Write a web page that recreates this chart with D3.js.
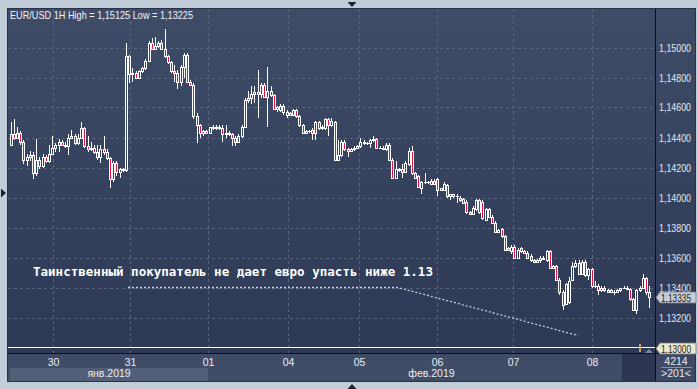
<!DOCTYPE html>
<html><head><meta charset="utf-8">
<script src="https://cdn.jsdelivr.net/npm/d3@7/dist/d3.min.js"></script>
<style>html,body{margin:0;padding:0;background:#c3cdda;overflow:hidden}svg{display:block}</style>
</head><body><svg id="c" width="698" height="389"></svg>
<script>
// ---------- DATA ----------
const titleText = "EUR/USD 1H High = 1,15125 Low = 1,13225";
const annotationText = "Таинственный покупатель не дает евро упасть ниже 1.13";
const candleOpen = [
1.1435,1.1442,1.1440,1.1443,1.1437,1.1425,1.1427,1.1428,1.1416,1.1425,
1.1421,1.1427,1.1424,1.1429,1.1433,1.1435,1.1437,1.1435,1.1434,1.1440,
1.1441,1.1436,1.1440,1.1446,1.1434,1.1432,1.1433,1.1430,1.1427,1.1432,
1.1430,1.1426,1.1412,1.1423,1.1417,1.1419,1.1418,1.1494,1.1482,1.1483,
1.1480,1.1484,1.1486,1.1491,1.1503,1.1499,1.1501,1.1503,1.1499,1.1494,
1.1490,1.1484,1.1483,1.1477,1.1487,1.1495,1.1477,1.1475,1.1454,1.1448,
1.1443,1.1444,1.1443,1.1447,1.1446,1.1447,1.1446,1.1442,1.1443,1.1442,
1.1440,1.1437,1.1441,1.1447,1.1465,1.1466,1.1469,1.1470,1.1469,1.1475,
1.1467,1.1471,1.1468,1.1459,1.1458,1.1461,1.1457,1.1455,1.1455,1.1458,
1.1454,1.1448,1.1443,1.1444,1.1445,1.1443,1.1450,1.1446,1.1446,1.1452,
1.1448,1.1450,1.1425,1.1428,1.1437,1.1432,1.1431,1.1432,1.1433,1.1434,
1.1437,1.1436,1.1436,1.1438,1.1439,1.1433,1.1433,1.1432,1.1435,1.1425,
1.1413,1.1419,1.1419,1.1417,1.1422,1.1431,1.1416,1.1414,1.1406,1.1410,
1.1410,1.1409,1.1411,1.1412,1.1405,1.1405,1.1408,1.1401,1.1401,1.1401,
1.1400,1.1399,1.1397,1.1390,1.1389,1.1392,1.1398,1.1397,1.1385,1.1392,
1.1387,1.1383,1.1377,1.1379,1.1374,1.1365,1.1364,1.1367,1.1360,1.1366,
1.1364,1.1363,1.1361,1.1358,1.1357,1.1358,1.1359,1.1358,1.1364,1.1353,
1.1354,1.1345,1.1337,1.1329,1.1330,1.1345,1.1354,1.1356,1.1349,1.1357,
1.1348,1.1352,1.1341,1.1341,1.1338,1.1340,1.1338,1.1337,1.1337,1.1337,
1.1338,1.1340,1.1340,1.1339,1.1332,1.1325,1.1338,1.1340,1.1346,1.1337];
const candleHigh = [
1.1450,1.1452,1.1447,1.1444,1.1438,1.1429,1.1431,1.1430,1.1439,1.1427,
1.1429,1.1428,1.1435,1.1441,1.1436,1.1439,1.1438,1.1437,1.1442,1.1445,
1.1442,1.1442,1.1450,1.1447,1.1441,1.1437,1.1435,1.1435,1.1435,1.1441,
1.1432,1.1427,1.1424,1.1424,1.1420,1.1420,1.1503,1.1495,1.1486,1.1484,
1.1485,1.1487,1.1492,1.1504,1.1506,1.1507,1.1504,1.1505,1.15125,1.1495,
1.1491,1.1488,1.1485,1.1488,1.1496,1.1496,1.1478,1.1476,1.1456,1.1449,
1.1445,1.1445,1.1447,1.1448,1.1448,1.1448,1.1448,1.1448,1.1444,1.1443,
1.1441,1.1442,1.1448,1.1466,1.1471,1.1474,1.1474,1.1485,1.1476,1.1476,
1.1487,1.1474,1.1469,1.1461,1.1462,1.1462,1.1458,1.1457,1.1459,1.1459,
1.1455,1.1449,1.1445,1.1445,1.1446,1.1451,1.1451,1.1448,1.1453,1.1453,
1.1453,1.1451,1.1438,1.1438,1.1438,1.1433,1.1433,1.1434,1.1435,1.1440,
1.1438,1.1437,1.1439,1.1441,1.1440,1.1434,1.1434,1.1436,1.1436,1.1426,
1.1424,1.1420,1.1422,1.1424,1.1433,1.1434,1.1417,1.1415,1.1411,1.1416,
1.1411,1.1412,1.1412,1.1413,1.1406,1.1410,1.1409,1.1402,1.1402,1.1402,
1.1401,1.1400,1.1398,1.1391,1.1394,1.1399,1.1399,1.1398,1.1393,1.1393,
1.1388,1.1384,1.1379,1.1380,1.1375,1.1367,1.1368,1.1368,1.1366,1.1367,
1.1365,1.1364,1.1362,1.1359,1.1359,1.1361,1.1361,1.1365,1.1365,1.1355,
1.1355,1.1346,1.1338,1.1343,1.1347,1.1357,1.1358,1.1358,1.1358,1.1358,
1.1353,1.1353,1.1344,1.1342,1.1341,1.1341,1.1339,1.1339,1.1338,1.1339,
1.1340,1.1341,1.1341,1.1340,1.1333,1.1339,1.1341,1.1349,1.1347,1.1341];
const candleLow = [
1.1434,1.1438,1.1439,1.1435,1.1422,1.1421,1.1424,1.1412,1.1414,1.1419,
1.1420,1.1423,1.1423,1.1428,1.1430,1.1430,1.1434,1.1433,1.1428,1.1439,
1.1435,1.1435,1.1439,1.1433,1.1430,1.1431,1.1429,1.1425,1.1423,1.1428,
1.1425,1.1406,1.1410,1.1414,1.1413,1.1417,1.1417,1.1476,1.1477,1.1479,
1.1479,1.1483,1.1485,1.1490,1.1498,1.1498,1.1500,1.1498,1.1493,1.1489,
1.1483,1.1477,1.1472,1.1474,1.1480,1.1476,1.1474,1.1452,1.1436,1.1440,
1.1441,1.1442,1.1442,1.1445,1.1445,1.1445,1.1437,1.1440,1.1441,1.1434,
1.1434,1.1436,1.1440,1.1446,1.1463,1.1462,1.1463,1.1453,1.1466,1.1466,
1.1447,1.1467,1.1458,1.1457,1.1457,1.1455,1.1453,1.1454,1.1454,1.1453,
1.1447,1.1442,1.1442,1.1443,1.1438,1.1438,1.1445,1.1445,1.1445,1.1441,
1.1447,1.1424,1.1424,1.1427,1.1431,1.1427,1.1430,1.1431,1.1432,1.1433,
1.1435,1.1435,1.1433,1.1437,1.1432,1.1432,1.1432,1.1431,1.1424,1.1412,
1.1413,1.1417,1.1413,1.1416,1.1421,1.1415,1.1413,1.1406,1.1402,1.1409,
1.1409,1.1408,1.1408,1.1401,1.1404,1.1404,1.1400,1.1398,1.1400,1.1396,
1.1397,1.1396,1.1389,1.1388,1.1388,1.1391,1.1389,1.1385,1.1384,1.1386,
1.1382,1.1376,1.1377,1.1373,1.1364,1.1364,1.1362,1.1359,1.1359,1.1363,
1.1362,1.1359,1.1357,1.1356,1.1356,1.1356,1.1358,1.1357,1.1352,1.1352,
1.1344,1.1335,1.1325,1.1328,1.1329,1.1344,1.1353,1.1348,1.1348,1.1347,
1.1345,1.1340,1.1340,1.1335,1.1337,1.1337,1.1336,1.1336,1.1335,1.1336,
1.1337,1.1339,1.1338,1.1331,1.1324,1.13225,1.1337,1.1339,1.1335,1.1326];
const candleClose = [
1.1442,1.1440,1.1443,1.1437,1.1425,1.1427,1.1428,1.1416,1.1425,1.1421,
1.1427,1.1424,1.1429,1.1433,1.1435,1.1437,1.1435,1.1434,1.1440,1.1441,
1.1436,1.1440,1.1446,1.1434,1.1432,1.1433,1.1430,1.1427,1.1432,1.1430,
1.1426,1.1412,1.1423,1.1417,1.1419,1.1418,1.1494,1.1482,1.1483,1.1480,
1.1484,1.1486,1.1491,1.1503,1.1499,1.1501,1.1503,1.1499,1.1494,1.1490,
1.1484,1.1483,1.1477,1.1487,1.1495,1.1477,1.1475,1.1454,1.1448,1.1443,
1.1444,1.1443,1.1447,1.1446,1.1447,1.1446,1.1442,1.1443,1.1442,1.1440,
1.1437,1.1441,1.1447,1.1465,1.1466,1.1469,1.1470,1.1469,1.1475,1.1467,
1.1471,1.1468,1.1459,1.1460,1.1461,1.1457,1.1455,1.1456,1.1458,1.1454,
1.1448,1.1443,1.1444,1.1444,1.1443,1.1450,1.1446,1.1447,1.1452,1.1448,
1.1451,1.1425,1.1428,1.1437,1.1432,1.1431,1.1432,1.1433,1.1434,1.1437,
1.1436,1.1436,1.1438,1.1439,1.1433,1.1433,1.1432,1.1435,1.1425,1.1413,
1.1419,1.1418,1.1417,1.1423,1.1431,1.1416,1.1413,1.1407,1.1410,1.1410,
1.1410,1.1411,1.1409,1.1405,1.1406,1.1409,1.1401,1.1402,1.1402,1.1401,
1.1398,1.1396,1.1390,1.1389,1.1393,1.1398,1.1390,1.1386,1.1392,1.1387,
1.1383,1.1377,1.1378,1.1374,1.1365,1.1366,1.1367,1.1360,1.1365,1.1364,
1.1363,1.1360,1.1358,1.1357,1.1358,1.1360,1.1360,1.1364,1.1353,1.1354,
1.1345,1.1337,1.1328,1.1342,1.1344,1.1354,1.1356,1.1349,1.1357,1.1348,
1.1352,1.1341,1.1341,1.1338,1.1340,1.1338,1.1337,1.1338,1.1337,1.1338,
1.1340,1.1340,1.1339,1.1332,1.1325,1.1338,1.1340,1.1346,1.1337,1.13335];
const priceTicks = [1.132,1.134,1.136,1.138,1.140,1.142,1.144,1.146,1.148,1.150];
const dayLabels = ["30","31","01","04","05","06","07","08"];
const dayStartBar = [13.3,37.2,61.5,86.4,108.6,132.9,156.6,181.2];
const monthLabels = ["янв.2019","фев.2019"];
const monthStartBar = [-0.1,61.5];
const lastPrice = 1.13335;
const levelPrice = 1.13;
const annotLineBar = [36.6,120.7,176.8];
const annotLinePrice = [1.1340,1.1340,1.1308];
const annotTextBar = 7;
const annotTextPrice = 1.1348;
const barCountTop = "4214";
const barCountBottom = ">201<";

// ---------- LAYOUT ----------
const L = 8, T = 9, PR = 655, PB = 353, R = 695, B = 381;
const svg = d3.select("#c");
const n = candleClose.length;
const x = d3.scaleLinear().domain([0, n - 1]).range([10.5, 10.5 + (n - 1) * 3.21]);
const y = d3.scaleLinear().domain([1.13, 1.15]).range([347.5, 47.5]);
const fmt = v => d3.format(".5f")(v).replace(".", ",");

const defs = svg.append("defs");
const g = defs.append("linearGradient").attr("id", "bg").attr("x1", 0).attr("y1", 0).attr("x2", 0).attr("y2", 1);
g.append("stop").attr("offset", "0%").attr("stop-color", "#3f4c67");
g.append("stop").attr("offset", "100%").attr("stop-color", "#2b3753");
defs.append("clipPath").attr("id", "plotclip").append("rect").attr("x", L).attr("y", T).attr("width", PR - L).attr("height", PB - T);

// outer frame
svg.append("rect").attr("width", 698).attr("height", 389).attr("fill", "#c3cdda");
svg.append("rect").attr("x", L - 0.5).attr("y", T - 0.5).attr("width", R - L + 1).attr("height", B - T + 1)
  .attr("fill", "url(#bg)").attr("stroke", "#2a3247");

// bottom axis background
svg.append("rect").attr("x", L).attr("y", PB + 1).attr("width", PR - L).attr("height", B - PB - 1).attr("fill", "#404c66");
svg.append("rect").attr("x", Math.round(x(monthStartBar[0]))).attr("y", 368).attr("width", Math.round(x(monthStartBar[1])) - Math.round(x(monthStartBar[0]))).attr("height", 13).attr("fill", "#525f79");
svg.append("rect").attr("x", 622).attr("y", PB + 1).attr("width", PR - 622).attr("height", B - PB - 1).attr("fill", "#2c3650");
svg.append("rect").attr("x", PR + 1).attr("y", PB + 1).attr("width", R - PR - 1).attr("height", B - PB - 1).attr("fill", "#3e4a64");

// grid
const grid = svg.append("g").attr("stroke", "#5a6680").attr("stroke-dasharray", "3,3").attr("stroke-width", 1);
grid.selectAll("line.h").data(priceTicks).join("line")
  .attr("x1", L).attr("x2", PR).attr("y1", d => Math.round(y(d)) + 0.5).attr("y2", d => Math.round(y(d)) + 0.5);
grid.selectAll("line.v").data(dayStartBar).join("line")
  .attr("y1", T).attr("y2", PB).attr("x1", d => Math.round(x(d)) + 0.5).attr("x2", d => Math.round(x(d)) + 0.5);

// title
svg.append("text").attr("x", 10).attr("y", 18.5).attr("fill", "#f2f4f8")
  .attr("font-family", "Liberation Sans, Arial, sans-serif").attr("font-size", 11)
  .attr("textLength", 183).attr("lengthAdjust", "spacingAndGlyphs").text(titleText);

// level line 1.13
svg.append("line").attr("x1", L).attr("x2", PR).attr("y1", Math.round(y(levelPrice)) - 0.5).attr("y2", Math.round(y(levelPrice)) - 0.5)
  .attr("stroke", "#ffffff").attr("stroke-width", 1);

// candles
const cg = svg.append("g").attr("clip-path", "url(#plotclip)");
const idx = d3.range(n);
idx.forEach(i => {
  const xc = Math.round(x(i));
  const o = candleOpen[i], c = candleClose[i], h = candleHigh[i], l = candleLow[i];
  const yTop = Math.round(y(Math.max(o, c))), yBot = Math.round(y(Math.min(o, c)));
  const yh = Math.round(y(h)), yl = Math.round(y(l));
  const wx = xc + 0.5;
  if (yh < yTop) cg.append("line").attr("x1", wx).attr("x2", wx).attr("y1", yh).attr("y2", yTop).attr("stroke", "#fff");
  if (yl > yBot) cg.append("line").attr("x1", wx).attr("x2", wx).attr("y1", yBot).attr("y2", yl).attr("stroke", "#fff");
  if (yBot - yTop < 1) {
    cg.append("line").attr("x1", xc - 1).attr("x2", xc + 2).attr("y1", yTop + 0.5).attr("y2", yTop + 0.5).attr("stroke", "#fff");
  } else {
    cg.append("rect").attr("x", xc - 0.5).attr("y", yTop + 0.5).attr("width", 2).attr("height", yBot - yTop)
      .attr("fill", c < o ? "#e3123f" : "none").attr("stroke", "#fff").attr("stroke-width", 1);
  }
});

// annotation
const lineGen = d3.line().x(d => x(d[0])).y(d => y(d[1]));
svg.append("path").attr("d", lineGen(annotLineBar.map((b, i) => [b, annotLinePrice[i]])))
  .attr("fill", "none").attr("stroke", "#c9ced8").attr("stroke-width", 1.3).attr("stroke-dasharray", "2,2");
svg.append("text").attr("x", x(annotTextBar)).attr("y", y(annotTextPrice)).attr("fill", "#ffffff")
  .attr("font-family", "DejaVu Sans Mono, monospace").attr("font-weight", "bold").attr("font-size", 12.5)
  .attr("textLength", 400).attr("lengthAdjust", "spacingAndGlyphs").text(annotationText);

// small markers near the end
svg.append("rect").attr("x", 639).attr("y", 344).attr("width", 2).attr("height", 8).attr("fill", "#c99a62");
svg.append("path").attr("d", "M645,353 L649,349 L653,353 Z").attr("fill", "#7d889d");

// separators
svg.append("line").attr("x1", PR + 0.5).attr("x2", PR + 0.5).attr("y1", T).attr("y2", B).attr("stroke", "#0d1018");
svg.append("line").attr("x1", L).attr("x2", R).attr("y1", PB + 0.5).attr("y2", PB + 0.5).attr("stroke", "#0d1018");

// right axis labels
svg.append("g").selectAll("text").data(priceTicks).join("text")
  .attr("x", 659).attr("y", d => Math.round(y(d)) + 4).attr("fill", "#e4e9f1")
  .attr("font-family", "Liberation Sans, Arial, sans-serif").attr("font-size", 10.5)
  .attr("textLength", 32).attr("lengthAdjust", "spacingAndGlyphs").text(d => fmt(d));

// price tags
function tag(v, fill) {
  const yc = Math.round(y(v)) + 0.5;
  svg.append("path").attr("d", `M656,${yc} L660,${yc - 5.5} L696,${yc - 5.5} L696,${yc + 5.5} L660,${yc + 5.5} Z`)
    .attr("fill", fill).attr("stroke", "#6f788a").attr("stroke-width", 0.8);
  svg.append("text").attr("x", 661).attr("y", yc + 4).attr("fill", "#1b1e26")
    .attr("font-family", "Liberation Sans, Arial, sans-serif").attr("font-size", 10)
    .attr("textLength", 30).attr("lengthAdjust", "spacingAndGlyphs").text(fmt(v));
}
tag(lastPrice, "#c9cdd5");
tag(levelPrice, "#ece8cc");

// bottom day labels
svg.append("g").selectAll("text").data(dayLabels).join("text")
  .attr("x", (d, i) => Math.round(x(dayStartBar[i])) + 0.5).attr("y", 366).attr("text-anchor", "middle")
  .attr("fill", "#e8edf5").attr("font-family", "Liberation Sans, Arial, sans-serif").attr("font-size", 10.5).text(d => d);
// month labels
const monthEnds = [x(monthStartBar[1]), PR];
svg.append("g").selectAll("text").data(monthLabels).join("text")
  .attr("x", (d, i) => (x(monthStartBar[i]) + monthEnds[i]) / 2).attr("y", 377).attr("text-anchor", "middle")
  .attr("fill", "#e8edf5").attr("font-family", "Liberation Sans, Arial, sans-serif").attr("font-size", 10.5).text(d => d);

// bar counts
svg.append("text").attr("x", 676).attr("y", 365).attr("text-anchor", "middle").attr("fill", "#e4e9f1")
  .attr("font-family", "Liberation Sans, Arial, sans-serif").attr("font-size", 10.5).text(barCountTop);
svg.append("line").attr("x1", 661).attr("x2", 692).attr("y1", 367.5).attr("y2", 367.5).attr("stroke", "#8793a8");
svg.append("text").attr("x", 676).attr("y", 377).attr("text-anchor", "middle").attr("fill", "#e4e9f1")
  .attr("font-family", "Liberation Sans, Arial, sans-serif").attr("font-size", 10.5).text(barCountBottom);

// scroll triangles
svg.append("path").attr("d", "M347.5,2 L356.5,2 L352,7 Z").attr("fill", "#1c2230");
svg.append("path").attr("d", "M347.5,389 L356.5,389 L352,384 Z").attr("fill", "#1c2230");
svg.append("path").attr("d", "M1,188.5 L1,197.5 L6,193 Z").attr("fill", "#1c2230");
</script></body></html>
